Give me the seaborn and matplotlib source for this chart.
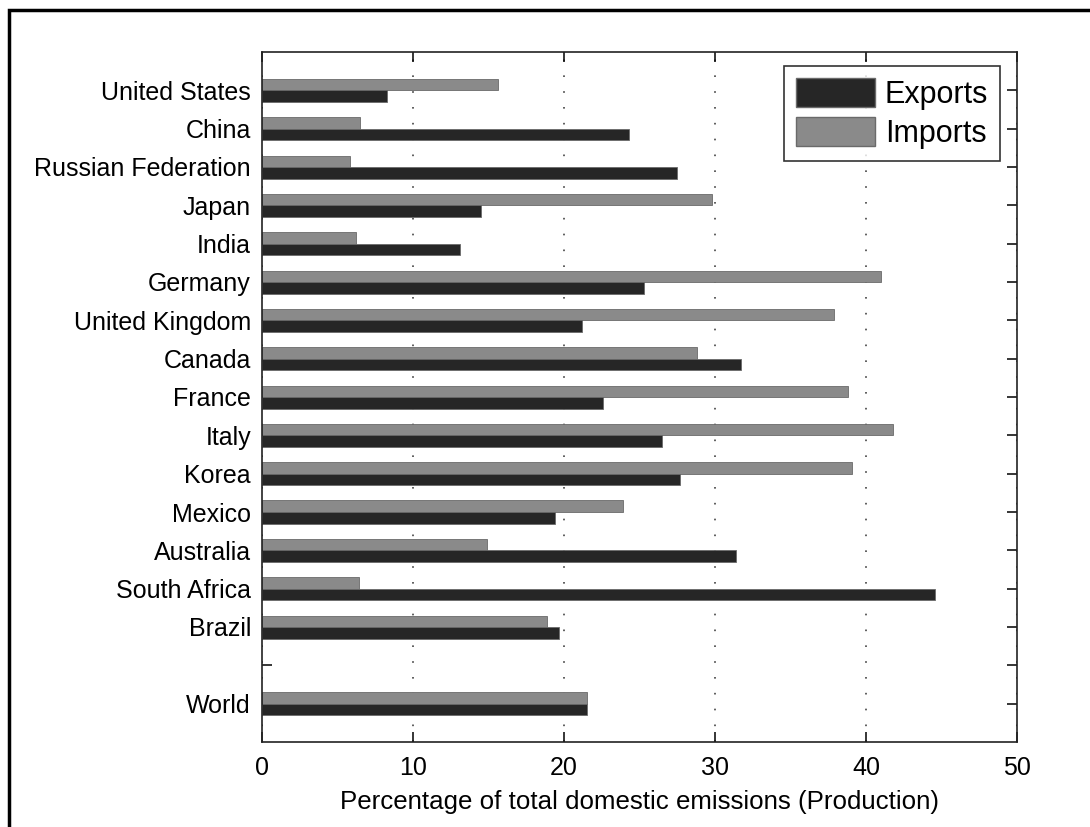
import numpy as np
import pandas as pd
import matplotlib
matplotlib.use("Agg")
import matplotlib.pyplot as plt
from matplotlib.patches import Rectangle, Patch
import seaborn as sns

# Donnees (en % des emissions domestiques)
countries = ['United States', 'China', 'Russian Federation', 'Japan', 'India',
             'Germany', 'United Kingdom', 'Canada', 'France', 'Italy', 'Korea',
             'Mexico', 'Australia', 'South Africa', 'Brazil', 'World']
exports = [8.3, 24.3, 27.5, 14.5, 13.1, 25.3, 21.2, 31.7, 22.6, 26.5, 27.7,
           19.4, 31.4, 44.6, 19.7, 21.5]
imports = [15.6, 6.5, 5.8, 29.8, 6.2, 41.0, 37.9, 28.8, 38.8, 41.8, 39.1,
           23.9, 14.9, 6.4, 18.9, 21.5]
xticks = [0, 10, 20, 30, 40, 50]

# ordre des lignes, avec une ligne vide avant World
order = countries[:-1] + [' '] + countries[-1:]

df = pd.DataFrame({
    'country': countries * 2,
    'series': ['Imports'] * len(countries) + ['Exports'] * len(countries),
    'value': imports + exports,
})

sns.set_style("ticks")
plt.rcParams['font.family'] = ['Liberation Sans', 'DejaVu Sans']
plt.rcParams['text.color'] = 'black'
plt.rcParams['axes.labelcolor'] = 'black'

fig = plt.figure(figsize=(10.9, 8.27), dpi=100)
ax = fig.add_axes([262 / 1090, 85 / 827, 755 / 1090, 690 / 827])

dark = '#262626'
grey = '#8a8a8a'
sns.barplot(data=df, y='country', x='value', hue='series', order=order,
            hue_order=['Imports', 'Exports'], palette={'Imports': grey, 'Exports': dark},
            orient='h', width=0.6, saturation=1, edgecolor='#6a6a6a', linewidth=0.6,
            legend=False, ax=ax)

ax.set_xlim(0, 50)
ax.set_ylim(17, -1)
ax.set_xticks(xticks)
ax.set_yticks(range(len(order)))
ax.set_yticklabels(order)
ax.set_ylabel('')
ax.set_xlabel('Percentage of total domestic emissions (Production)', fontsize=18.6,
              labelpad=7, color='black')

ax.xaxis.grid(True, linestyle=(0, (1, 8.5)), color='#444444', linewidth=1.2)
ax.set_axisbelow(True)
ax.tick_params(axis='both', direction='in', length=7, width=1.1, colors='black',
               labelcolor='black', top=True, right=True, labelsize=18)
ax.tick_params(axis='y', pad=8)
ax.tick_params(axis='x', pad=10)
for s in ax.spines.values():
    s.set_visible(True)
    s.set_linewidth(1.2)
    s.set_color('#222222')

handles = [Patch(facecolor=dark, edgecolor='#6a6a6a', label='Exports'),
           Patch(facecolor=grey, edgecolor='#6a6a6a', label='Imports')]
leg = ax.legend(handles=handles, loc='upper right', bbox_to_anchor=(0.977, 0.979),
                fontsize=22, frameon=True, fancybox=False, borderaxespad=0,
                handlelength=2.6, handleheight=1.1, handletextpad=0.3,
                labelspacing=0.22, borderpad=0.38)
leg.get_frame().set_edgecolor('black')
leg.get_frame().set_linewidth(1.2)

# cadre autour de la figure
fig.patches.append(Rectangle((9 / 1090, -0.1), 1.2, 1.1 - 10 / 827,
                             transform=fig.transFigure, fill=False,
                             edgecolor='black', linewidth=2.5))

fig.savefig('out.png', dpi=100)
